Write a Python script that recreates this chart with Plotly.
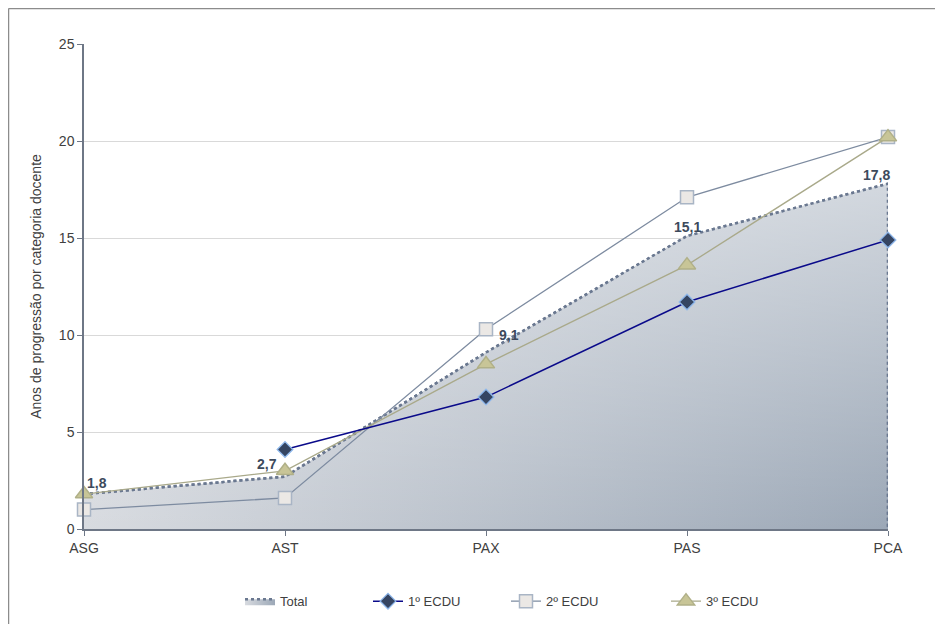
import plotly.graph_objects as go

categories = ["ASG", "AST", "PAX", "PAS", "PCA"]
total = [1.8, 2.7, 9.1, 15.1, 17.8]
ecdu1 = [None, 4.1, 6.8, 11.7, 14.9]
ecdu2 = [1.0, 1.6, 10.3, 17.1, 20.2]
ecdu3 = [1.8, 3.0, 8.5, 13.6, 20.2]
total_labels = ["1,8", "2,7", "9,1", "15,1", "17,8"]
y_ticks = [0, 5, 10, 15, 20, 25]

xi = list(range(len(categories)))
tx = xi + [xi[-1]]
ty = total + [0]

FONT = "Liberation Sans, Arial"
fig = go.Figure()

fig.add_trace(go.Scatter(
    x=tx, y=ty, name="Total", mode="lines", fill="tozeroy",
    line=dict(color="#6a7890", width=2.5, dash="dot"),
    fillgradient=dict(type="horizontal", start=0, stop=4,
                      colorscale=[[0, "#d8dbe0"], [1, "#9ca8b7"]]),
    legend="legend", hoverinfo="skip", cliponaxis=False,
))
fig.add_trace(go.Scatter(
    x=tx, y=ty, mode="lines", fill="tozeroy", showlegend=False,
    line=dict(width=0, color="rgba(0,0,0,0)"),
    fillgradient=dict(type="vertical", start=0, stop=17.8,
                      colorscale=[[0, "rgba(255,255,255,0)"], [1, "rgba(255,255,255,0.55)"]]),
    hoverinfo="skip",
))
fig.add_trace(go.Scatter(
    x=tx, y=ty, mode="lines", showlegend=False,
    line=dict(color="#6a7890", width=2.5, dash="dot"), hoverinfo="skip", cliponaxis=False,
))

fig.add_trace(go.Scatter(
    x=xi, y=ecdu2, name="2º ECDU", mode="lines+markers",
    line=dict(color="#7d8ba0", width=1.3),
    marker=dict(symbol="square", size=13, color="#ebe8e5", line=dict(color="#a9b5c5", width=1.5)),
    legend="legend3", cliponaxis=False,
))
fig.add_trace(go.Scatter(
    x=xi, y=ecdu3, name="3º ECDU", mode="lines+markers",
    line=dict(color="#a9a98a", width=1.3),
    marker=dict(symbol="triangle-up", size=15, color="#c8c597", line=dict(color="#b0b088", width=1.5)),
    legend="legend4", cliponaxis=False,
))
fig.add_trace(go.Scatter(
    x=xi, y=ecdu1, name="1º ECDU", mode="lines+markers",
    line=dict(color="#0a0a8a", width=1.5),
    marker=dict(symbol="diamond", size=12, color="#354562", line=dict(color="#8fb8ec", width=1.3)),
    legend="legend2", cliponaxis=False,
))

shifts = [(13, 11), (-18, 13), (23, 17), (0, 9), (-12, 9)]
for i, (v, lab) in enumerate(zip(total, total_labels)):
    dx, dy = shifts[i]
    fig.add_annotation(x=xi[i], y=v, text="<b>" + lab + "</b>", showarrow=False,
                       xshift=dx, yshift=dy,
                       font=dict(family=FONT, size=14, color="#3d4a5c"))

# outer frame (only left and top edges visible)
fig.add_shape(type="line", xref="paper", yref="paper", x0=-0.0939, x1=-0.0939, y0=1.0732, y1=-0.25,
              line=dict(color="#8c8c8c", width=1.5))
fig.add_shape(type="line", xref="paper", yref="paper", x0=-0.0939, x1=1.12, y0=1.0732, y1=1.0732,
              line=dict(color="#8c8c8c", width=1.5))

PL = 84.0
PW = 804.0
def lx(text_start):
    return (text_start - 42 - PL) / PW

leg_common = dict(orientation="h", xanchor="left", yref="container", y=0.037, yanchor="middle",
                  font=dict(family=FONT, size=13, color="#404040"), bgcolor="rgba(0,0,0,0)")

fig.update_layout(
    width=935, height=616,
    margin=dict(l=76, r=55, t=36, b=95),
    paper_bgcolor="white", plot_bgcolor="white",
    font=dict(family=FONT, size=14, color="#404040"),
    showlegend=True,
    legend=dict(x=lx(282), **leg_common),
    legend2=dict(x=lx(410), **leg_common),
    legend3=dict(x=lx(548), **leg_common),
    legend4=dict(x=lx(708), **leg_common),
    xaxis=dict(range=[0, 4], tickvals=xi, ticktext=categories, showgrid=False,
               showline=True, linecolor="#6e7786", linewidth=1.5, ticks="outside",
               ticklen=5, tickcolor="#6e7786", zeroline=False, fixedrange=True),
    yaxis=dict(range=[0, 25], tickvals=y_ticks, showgrid=True, gridcolor="#d9d9d9",
               showline=True, linecolor="#6e7786", linewidth=1.5, ticks="outside",
               ticklen=5, tickcolor="#6e7786", zeroline=False,
               title=dict(text="Anos de progressão por categoria docente", standoff=14,
                          font=dict(size=14, color="#404040"))),
)

fig.write_html("out.html")
